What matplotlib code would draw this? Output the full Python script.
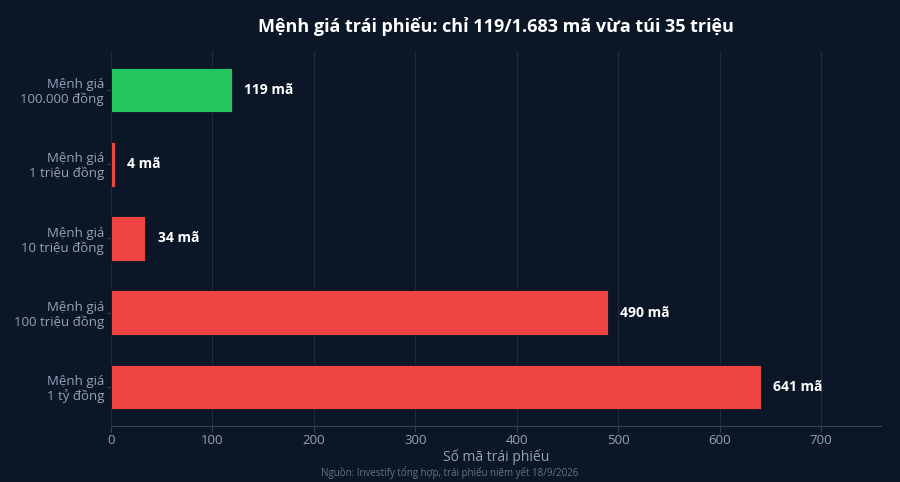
import matplotlib.pyplot as plt

plt.rcParams['font.family'] = ['Open Sans', 'Noto Sans', 'DejaVu Sans']

# data (top to bottom as in the chart)
categories = ["Mệnh giá\n100.000 đồng", "Mệnh giá\n1 triệu đồng", "Mệnh giá\n10 triệu đồng",
              "Mệnh giá\n100 triệu đồng", "Mệnh giá\n1 tỷ đồng"]
counts = [119, 4, 34, 490, 641]
colors = ["#22c55e", "#ef4444", "#ef4444", "#ef4444", "#ef4444"]
x_ticks = [0, 100, 200, 300, 400, 500, 600, 700]

bg = "#0b1627"
fig = plt.figure(figsize=(9, 4.82), dpi=100, facecolor=bg)
ax = fig.add_axes([111 / 900, 1 - 426 / 482, 770 / 900, 375 / 482], facecolor=bg)

y_pos = list(range(len(categories)))
ax.barh(y_pos, counts, height=0.6, color=colors, edgecolor=bg, linewidth=0.6, zorder=3)

for y, v in zip(y_pos, counts):
    ax.text(v + 12, y, f"{v} mã", va="center", ha="left", color="white",
            fontsize=10, fontweight="bold", zorder=4)

ax.set_yticks(y_pos)
ax.set_yticklabels(categories, color="#94a3b8", fontsize=9.5, linespacing=1.12)
ax.set_ylim(len(categories) - 0.475, -0.525)
ax.set_xlim(0, 759)
ax.set_xticks(x_ticks)
ax.set_xticklabels([str(t) for t in x_ticks], color="#94a3b8", fontsize=9.5)
ax.set_xlabel("Số mã trái phiếu", color="#94a3b8", fontsize=10, labelpad=1)

ax.grid(axis="x", color="#202c3e", linewidth=0.8, zorder=0)
for s in ["top", "right", "left"]:
    ax.spines[s].set_visible(False)
ax.spines["bottom"].set_color("#334155")
ax.tick_params(axis="x", colors="#334155", length=4, pad=2, labelcolor="#94a3b8")
ax.tick_params(axis="y", colors="#334155", length=3, pad=2, labelcolor="#94a3b8")

fig.text(496 / 900, 1 - 27 / 482, "Mệnh giá trái phiếu: chỉ 119/1.683 mã vừa túi 35 triệu",
         ha="center", va="center", color="white", fontsize=13, fontweight="bold")
fig.text(450 / 900, 1 - 473 / 482, "Nguồn: Investify tổng hợp, trái phiếu niêm yết 18/9/2026",
         ha="center", va="center", color="#64748b", fontsize=7)

fig.savefig("out.png", facecolor=bg)
